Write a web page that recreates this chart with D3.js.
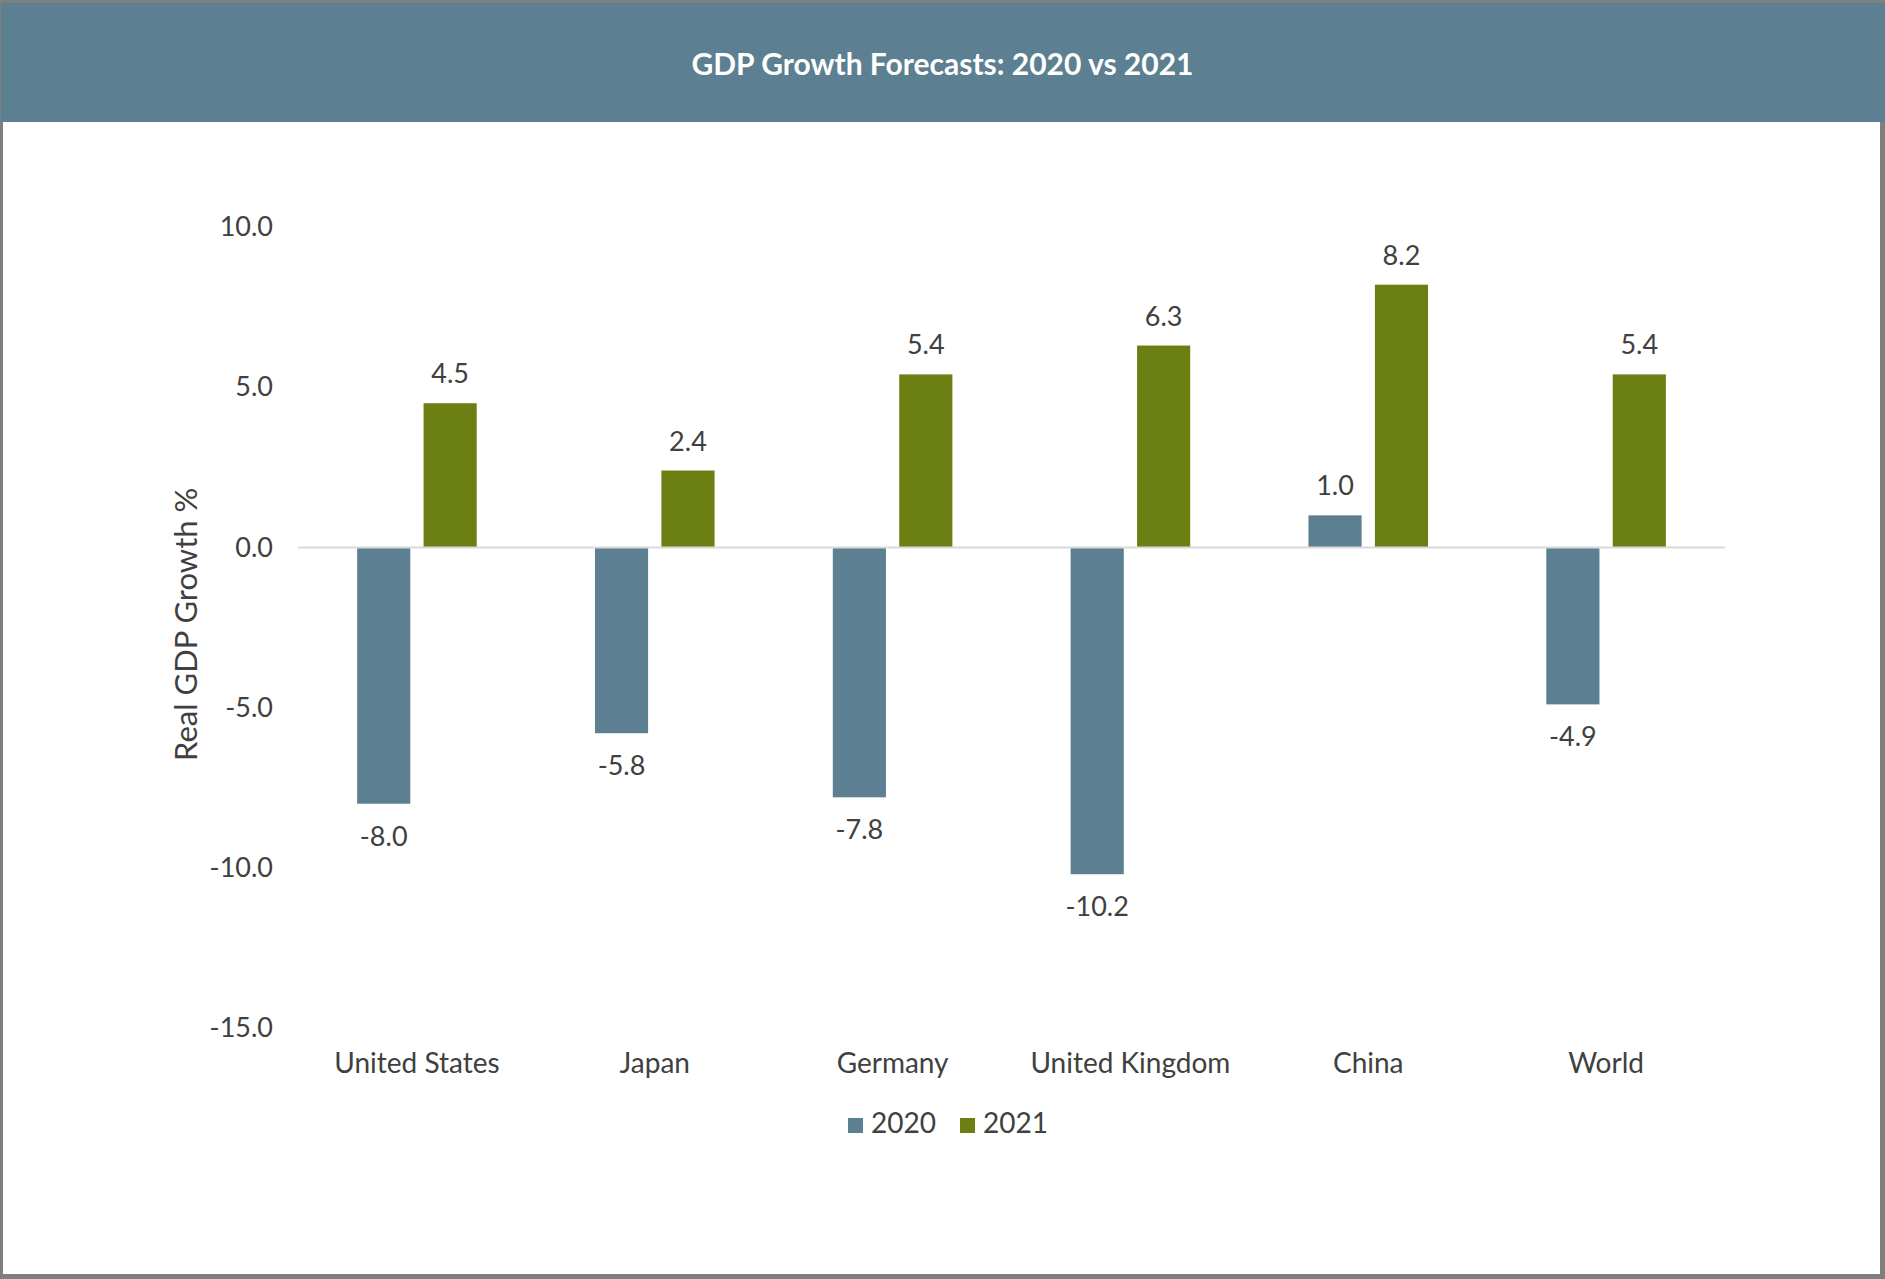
<!DOCTYPE html>
<html>
<head>
<meta charset="utf-8">
<script src="https://cdn.jsdelivr.net/npm/d3@7"></script>
<style>
  body { margin: 0; background: #fff; }
  svg text { font-family: Lato, "Open Sans", sans-serif; }
</style>
</head>
<body>
<div id="chart"></div>
<script>
// values
const countries = ["United States", "Japan", "Germany", "United Kingdom", "China", "World"];
const years = ["2020", "2021"];
const growth2020 = [-8.0, -5.8, -7.8, -10.2, 1.0, -4.9];
const growth2021 = [4.5, 2.4, 5.4, 6.3, 8.2, 5.4];
const yTicks = [-15, -10, -5, 0, 5, 10];
const colors = { "2020": "#5c7f92", "2021": "#6b7f12" };

const width = 1885, height = 1279;
const margin = {top: 227, right: 160, bottom: 251, left: 298};

const rows = countries.map((c, i) => ({ country: c, "2020": growth2020[i], "2021": growth2021[i] }));

const svg = d3.select("#chart")
    .append("svg")
    .attr("width", width)
    .attr("height", height);

// frame + title bar
svg.append("rect").attr("width", width).attr("height", height).attr("fill", "#7f7f7f");
svg.append("rect").attr("x", 3).attr("y", 3).attr("width", width - 8).attr("height", height - 8).attr("fill", "#fff");
svg.append("rect").attr("x", 1).attr("y", 3).attr("width", width - 1).attr("height", 119).attr("fill", "#5c7f92");

svg.append("text")
    .attr("x", width / 2)
    .attr("y", 75)
    .attr("text-anchor", "middle")
    .attr("fill", "#fff")
    .style("font-size", "30px")
    .style("font-weight", "bold")
    .text("GDP Growth Forecasts: 2020 vs 2021");

const x0 = d3.scaleBand()
    .domain(countries)
    .range([margin.left, width - margin.right]);

const x1 = d3.scaleBand()
    .domain(years)
    .range([0, x0.bandwidth()])
    .paddingInner(0.2)
    .paddingOuter(0.89);

const y = d3.scaleLinear()
    .domain([-15, 10])
    .range([height - margin.bottom, margin.top]);

// y axis (labels only)
const yAxis = svg.append("g")
    .attr("transform", `translate(${margin.left}, 0)`)
    .call(d3.axisLeft(y).tickValues(yTicks).tickSize(0).tickPadding(25).tickFormat(d => d.toFixed(1)));
yAxis.select(".domain").remove();
yAxis.selectAll("text").attr("fill", "#404040").style("font-size", "27px");

// x axis (category labels only)
const xAxis = svg.append("g")
    .attr("transform", `translate(0, ${y(-15)})`)
    .call(d3.axisBottom(x0).tickSize(0).tickPadding(25));
xAxis.select(".domain").remove();
xAxis.selectAll("text").attr("fill", "#404040").style("font-size", "28px");

svg.append("text")
    .attr("transform", `translate(197, ${y(-2.4)}) rotate(-90)`)
    .attr("text-anchor", "middle")
    .attr("fill", "#404040")
    .style("font-size", "31px")
    .text("Real GDP Growth %");

// bars
const groups = svg.selectAll(".group")
    .data(rows)
    .enter().append("g")
    .attr("class", "group")
    .attr("transform", d => `translate(${x0(d.country)}, 0)`);

const cells = groups.selectAll(".cell")
    .data(d => years.map(k => ({ key: k, value: d[k] })))
    .enter();

cells.append("rect")
    .attr("x", d => x1(d.key))
    .attr("y", d => y(Math.max(0, d.value)))
    .attr("width", x1.bandwidth())
    .attr("height", d => Math.abs(y(d.value) - y(0)))
    .attr("fill", d => colors[d.key]);

cells.append("text")
    .attr("x", d => x1(d.key) + x1.bandwidth() / 2)
    .attr("y", d => d.value >= 0 ? y(d.value) - 20 : y(d.value) + 42)
    .attr("text-anchor", "middle")
    .attr("fill", "#404040")
    .style("font-size", "27px")
    .text(d => d.value.toFixed(1));

// zero line
svg.append("line")
    .attr("x1", margin.left)
    .attr("x2", width - margin.right)
    .attr("y1", y(0))
    .attr("y2", y(0))
    .attr("stroke", "#d9d9d9")
    .attr("stroke-width", 2);

// legend
const legend = svg.selectAll(".legend")
    .data(years)
    .enter().append("g")
    .attr("class", "legend")
    .attr("transform", (d, i) => `translate(${848 + i * 112}, 1118)`);

legend.append("rect")
    .attr("width", 15)
    .attr("height", 15)
    .attr("fill", d => colors[d]);

legend.append("text")
    .attr("x", 23)
    .attr("y", 15)
    .attr("fill", "#404040")
    .style("font-size", "28px")
    .text(d => d);
</script>
</body>
</html>
